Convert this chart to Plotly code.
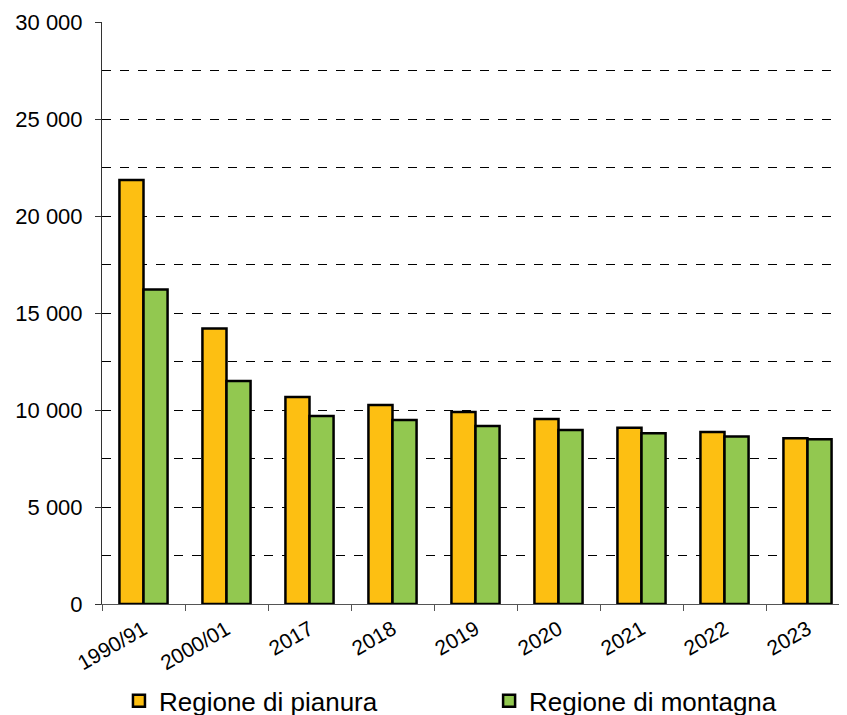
import plotly.graph_objects as go

anni = ['1990/91', '2000/01', '2017', '2018', '2019', '2020', '2021', '2022', '2023']
pianura = [21850, 14200, 10670, 10260, 9900, 9540, 9090, 8870, 8540]
montagna = [16210, 11500, 9690, 9480, 9180, 8970, 8800, 8640, 8490]

FONT = 'Arial, Liberation Sans, sans-serif'


def main():
    fig = go.Figure()
    fig.add_trace(go.Bar(x=anni, y=pianura, name='Regione di pianura', legend='legend',
                         marker=dict(color='#FDBF12', line=dict(color='black', width=2.5))))
    fig.add_trace(go.Bar(x=anni, y=montagna, name='Regione di montagna', legend='legend2',
                         marker=dict(color='#92C850', line=dict(color='black', width=2.5))))

    leg = dict(orientation='h', xref='container', yref='container',
               y=0.064, xanchor='left', yanchor='top', font=dict(size=26),
               bgcolor='rgba(0,0,0,0)')
    fig.update_layout(
        width=847, height=715,
        margin=dict(l=94, r=6, t=14, b=119, autoexpand=False),
        plot_bgcolor='white', paper_bgcolor='white',
        font=dict(family=FONT, size=22, color='black'),
        barmode='group', bargap=0.42, bargroupgap=0,
        separators=', ',
        showlegend=True,
        legend=dict(leg, x=0.131),
        legend2=dict(leg, x=0.568),
    )
    fig.update_yaxes(
        range=[0, 30000], dtick=5000, tickformat=',d', automargin=False,
        showline=True, linecolor='#333333', linewidth=1,
        ticks='outside', ticklen=6, tickcolor='#333333', ticklabelstandoff=8,
        tickfont=dict(size=22),
        showgrid=True, gridcolor='black', griddash='dash', gridwidth=1,
        zeroline=False,
        minor=dict(dtick=2500, showgrid=True, gridcolor='black', griddash='dash', gridwidth=1, ticks=''),
    )
    fig.update_xaxes(
        type='category', tickangle=-30, tickson='boundaries', automargin=False,
        showline=True, linecolor='#555555', linewidth=1,
        ticks='outside', ticklen=6, tickcolor='#555555', ticklabelstandoff=4,
        tickfont=dict(size=21),
        showgrid=False,
    )
    fig.write_html('out.html')


if __name__ == '__main__':
    main()
